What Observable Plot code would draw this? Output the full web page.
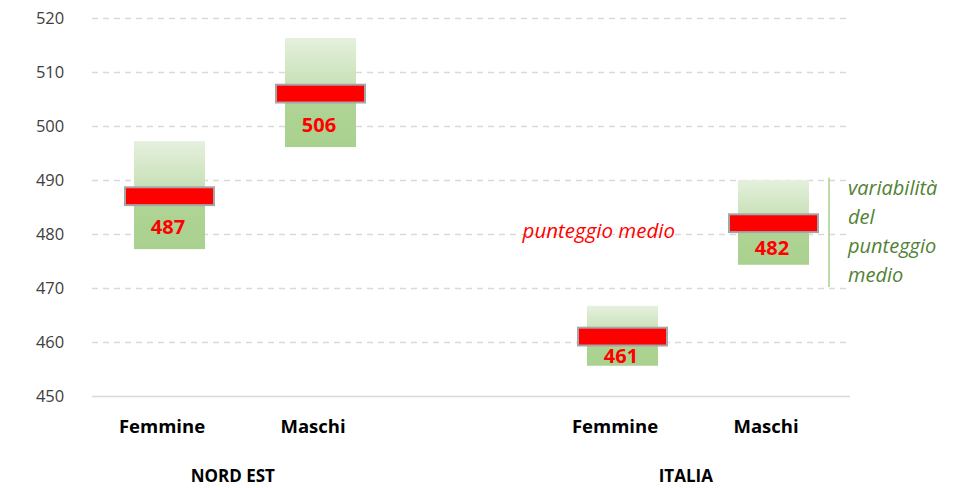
<!DOCTYPE html>
<html><head><meta charset="utf-8">
<script src="https://cdn.jsdelivr.net/npm/d3@7"></script>
<script src="https://cdn.jsdelivr.net/npm/@observablehq/plot@0.6"></script>
<style>
html,body{margin:0;padding:0;background:#fff;}
svg{display:block;}
</style>
</head><body>
<div id="chart"></div>
<script>
const groups = ["NORD EST", "NORD EST", "ITALIA", "ITALIA"];
const genders = ["Femmine", "Maschi", "Femmine", "Maschi"];
const means = [487, 506, 461, 482];
const lows = [477.2, 496.1, 455.6, 474.3];
const highs = [497.2, 516.3, 466.7, 490.0];
const yTicks = [450, 460, 470, 480, 490, 500, 510, 520];
const slots = ["NORD EST|Femmine", "NORD EST|Maschi", "gap", "ITALIA|Femmine", "ITALIA|Maschi"];
const groupNames = ["NORD EST", "ITALIA"];
const noteMean = "punteggio medio";
const noteVar = "variabilità\ndel\npunteggio\nmedio";
const noteVarRange = [470.2, 490.4];

const data = groups.map((g, i) => ({
  key: g + "|" + genders[i], group: g, gender: genders[i],
  mean: means[i], low: lows[i], high: highs[i]
}));

const W = 964, H = 488, ML = 92, MR = 114, MT = 18, MB = 92;
const band = (W - ML - MR) / slots.length;
const font = "'Open Sans', Lato, sans-serif";

const defs = () => {
  const d = d3.create("svg:defs");
  const g = d.append("linearGradient").attr("id", "boxGrad").attr("x1", 0).attr("y1", 0).attr("x2", 0).attr("y2", 1);
  g.append("stop").attr("offset", "0%").attr("stop-color", "#e5f0de");
  g.append("stop").attr("offset", "45%").attr("stop-color", "#c6e0b4");
  g.append("stop").attr("offset", "55%").attr("stop-color", "#b0d496");
  g.append("stop").attr("offset", "100%").attr("stop-color", "#a9d18e");
  return d.node();
};

const plot = Plot.plot({
  width: W, height: H,
  marginLeft: ML, marginRight: MR, marginTop: MT, marginBottom: MB,
  style: {fontFamily: font, background: "#fff", overflow: "visible"},
  x: {type: "band", domain: slots, padding: 0, axis: null},
  y: {domain: [450, 520], axis: null},
  marks: [
    defs,
    Plot.ruleY(yTicks.filter(t => t > 450), {stroke: "#d9d9d9", strokeWidth: 1.5, strokeDasharray: "6,5"}),
    Plot.ruleY([450], {stroke: "#d9d9d9", strokeWidth: 1.5}),
    Plot.text(yTicks, {x: () => slots[0], y: d => d, text: d => String(d),
      textAnchor: "end", dx: -band / 2 - 30, fontSize: 16.5, fill: "#404040"}),
    Plot.barY(data, {x: "key", y1: "low", y2: "high", fill: "url(#boxGrad)", insetLeft: 40, insetRight: 40}),
    Plot.barY(data, {x: "key", y1: d => d.mean - 1.65, y2: d => d.mean + 1.65, fill: "#ff0000",
      stroke: "#a6a6a6", strokeWidth: 2, insetLeft: 31, insetRight: 31}),
    Plot.text(data, {x: "key", y: d => (d.mean - 1.65 + d.low) / 2, text: d => String(d.mean),
      fill: "#ff0000", fontWeight: "bold", fontSize: 20, dx: -2}),
    Plot.text(data, {x: "key", y: 450, text: "gender", dy: 31, dx: -8, fontWeight: "bold", fontSize: 18.5, fill: "#000"}),
    Plot.text(groupNames, {x: g => g + "|Femmine", y: 450, text: d => d, dy: 80,
      dx: band / 2 - 13, fontWeight: "bold", fontSize: 17, fill: "#000"}),
    Plot.text([noteMean], {x: () => "ITALIA|Femmine", y: 480.5, text: d => d, textAnchor: "end", dx: 52,
      fill: "#ff0000", fontStyle: "italic", fontSize: 20.5}),
    Plot.ruleX([noteVarRange], {x: () => "ITALIA|Maschi", y1: d => d[0], y2: d => d[1], dx: 55,
      stroke: "#a9d18e", strokeWidth: 1.5}),
    Plot.text([noteVar], {x: () => "ITALIA|Maschi", y: 481, text: d => d, textAnchor: "start", dx: 74,
      lineHeight: 1.45, fill: "#538135", fontStyle: "italic", fontSize: 20})
  ]
});
document.getElementById("chart").appendChild(plot);
</script>
</body></html>
